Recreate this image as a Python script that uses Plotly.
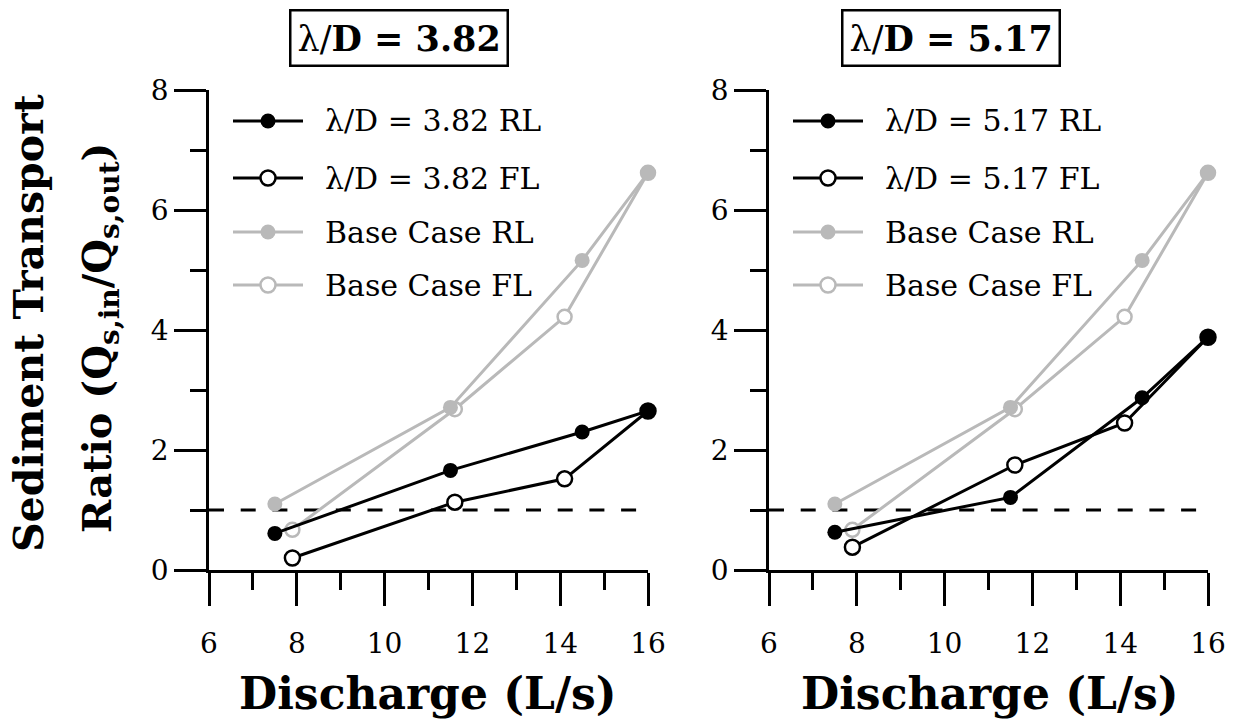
import plotly.graph_objects as go

W, H = 1236, 724

# ---- data ----
discharge_rl = [7.5, 11.5, 14.5, 16.0]
discharge_fl = [7.9, 11.6, 14.1, 16.0]
base_rl = [1.10, 2.71, 5.16, 6.62]
base_fl = [0.67, 2.68, 4.22, 6.62]
ld382_rl = [0.61, 1.66, 2.30, 2.65]
ld382_fl = [0.20, 1.13, 1.52, 2.65]
ld517_rl = [0.63, 1.21, 2.87, 3.88]
ld517_fl = [0.38, 1.75, 2.45, 3.88]
threshold_x = [6.0, 15.77]
threshold_y = [1, 1]
panel_labels = ["3.82", "5.17"]
x_ticks = [6, 8, 10, 12, 14, 16]
y_ticks = [0, 2, 4, 6, 8]

FONT = "DejaVu Serif"
GRAY = "#b9b9b9"
BLACK = "black"


def px(x):
    return x / W


def py(y):
    return 1 - y / H


fig = go.Figure()

panel_series = [(ld382_rl, ld382_fl), (ld517_rl, ld517_fl)]
for i, (rl, fl) in enumerate(panel_series):
    xa = "x" if i == 0 else "x2"
    ya = "y" if i == 0 else "y2"
    fig.add_trace(go.Scatter(x=threshold_x, y=threshold_y, xaxis=xa, yaxis=ya, mode="lines",
                             line=dict(color=BLACK, width=3, dash="15px,16.7px"),
                             cliponaxis=False, showlegend=False, hoverinfo="skip"))
    fig.add_trace(go.Scatter(x=discharge_fl, y=base_fl, xaxis=xa, yaxis=ya, mode="lines+markers",
                             line=dict(color=GRAY, width=3),
                             marker=dict(size=14, color="white", line=dict(color=GRAY, width=2.5)),
                             cliponaxis=False, showlegend=False))
    fig.add_trace(go.Scatter(x=discharge_rl, y=base_rl, xaxis=xa, yaxis=ya, mode="lines+markers",
                             line=dict(color=GRAY, width=3),
                             marker=dict(size=15, color=GRAY, line=dict(width=0)),
                             cliponaxis=False, showlegend=False))
    fig.add_trace(go.Scatter(x=discharge_fl, y=fl, xaxis=xa, yaxis=ya, mode="lines+markers",
                             line=dict(color=BLACK, width=3),
                             marker=dict(size=15, color="white", line=dict(color=BLACK, width=2.5)),
                             cliponaxis=False, showlegend=False))
    fig.add_trace(go.Scatter(x=discharge_rl, y=rl, xaxis=xa, yaxis=ya, mode="lines+markers",
                             line=dict(color=BLACK, width=3),
                             marker=dict(size=15, color=BLACK, line=dict(width=0)),
                             cliponaxis=False, showlegend=False))

x_domains = [[px(209), px(648)], [px(769), px(1208)]]
y_domain = [py(570), py(90)]


def xaxis_cfg(dom, anchor):
    return dict(domain=dom, anchor=anchor, range=[6, 16], tickmode="array", tickvals=x_ticks,
                ticktext=[str(v) for v in x_ticks], ticks="outside", ticklen=33, tickwidth=2.8,
                tickcolor=BLACK, showline=True, linewidth=2.8, linecolor=BLACK, showgrid=False,
                zeroline=False, automargin=False, ticklabelstandoff=13,
                tickfont=dict(family=FONT, size=28, color=BLACK),
                minor=dict(ticks="outside", ticklen=17, tickwidth=2.8, tickcolor=BLACK,
                           dtick=1, tick0=6, showgrid=False), fixedrange=True)


def yaxis_cfg(anchor):
    return dict(domain=y_domain, anchor=anchor, range=[0, 8], tickmode="array", tickvals=y_ticks,
                ticktext=[str(v) for v in y_ticks], ticks="outside", ticklen=32, tickwidth=2.8,
                tickcolor=BLACK, showline=True, linewidth=2.8, linecolor=BLACK, showgrid=False,
                zeroline=False, automargin=False,
                tickfont=dict(family=FONT, size=28, color=BLACK),
                minor=dict(ticks="outside", ticklen=16, tickwidth=2.8, tickcolor=BLACK,
                           dtick=1, tick0=0, showgrid=False), fixedrange=True)


shapes = []
annotations = []

legend_rows = [121, 178, 232, 285]
for i, lab in enumerate(panel_labels):
    dx = 0 if i == 0 else 560
    entries = [
        (f"λ/D = {lab} RL", BLACK, BLACK),
        (f"λ/D = {lab} FL", BLACK, "white"),
        ("Base Case RL", GRAY, GRAY),
        ("Base Case FL", GRAY, "white"),
    ]
    for row, (text, col, fill) in zip(legend_rows, entries):
        shapes.append(dict(type="line", xref="paper", yref="paper", x0=px(233 + dx), x1=px(303 + dx),
                           y0=py(row), y1=py(row), line=dict(color=col, width=3)))
        r = 7.5
        shapes.append(dict(type="circle", xref="paper", yref="paper", xsizemode="pixel",
                           ysizemode="pixel", xanchor=px(268 + dx), yanchor=py(row),
                           x0=-r, x1=r, y0=-r, y1=r, fillcolor=fill,
                           line=dict(color=col, width=2.5 if fill == "white" else 0)))
        annotations.append(dict(text=text, xref="paper", yref="paper", x=px(323 + dx), y=py(row),
                                xanchor="left", yanchor="middle", showarrow=False,
                                font=dict(family=FONT, size=30, color=BLACK)))

    # boxed panel title
    cx = 399 if i == 0 else 951
    annotations.append(dict(text=f"λ/<b>D = {lab}</b>", xref="paper", yref="paper", x=px(cx), y=py(38),
                            xanchor="center", yanchor="middle", showarrow=False,
                            font=dict(family=FONT, size=35, color=BLACK),
                            bordercolor=BLACK, borderwidth=2.5, borderpad=6, bgcolor="white"))
    # x title
    tx = 428 if i == 0 else 990
    annotations.append(dict(text="<b>Discharge (L/s)</b>", xref="paper", yref="paper", x=px(tx),
                            y=py(693), xanchor="center", yanchor="middle", showarrow=False,
                            font=dict(family=FONT, size=44, color=BLACK)))

# y title (two lines, rotated)
annotations.append(dict(text="<b>Sediment Transport</b>", xref="paper", yref="paper", x=px(29),
                        y=py(323), xanchor="center", yanchor="middle", showarrow=False, textangle=-90,
                        font=dict(family=FONT, size=41, color=BLACK)))
annotations.append(dict(text="<b>Ratio (Q<sub>s,in</sub>/Q<sub>s,out</sub>)</b>", xref="paper",
                        yref="paper", x=px(99), y=py(338), xanchor="center", yanchor="middle",
                        showarrow=False, textangle=-90,
                        font=dict(family=FONT, size=40, color=BLACK)))

fig.update_layout(
    width=W, height=H, margin=dict(l=0, r=0, t=0, b=0),
    paper_bgcolor="white", plot_bgcolor="white", showlegend=False,
    xaxis=xaxis_cfg(x_domains[0], "y"), yaxis=yaxis_cfg("x"),
    xaxis2=xaxis_cfg(x_domains[1], "y2"), yaxis2=yaxis_cfg("x2"),
    shapes=shapes, annotations=annotations,
)

fig.write_html("out.html")
